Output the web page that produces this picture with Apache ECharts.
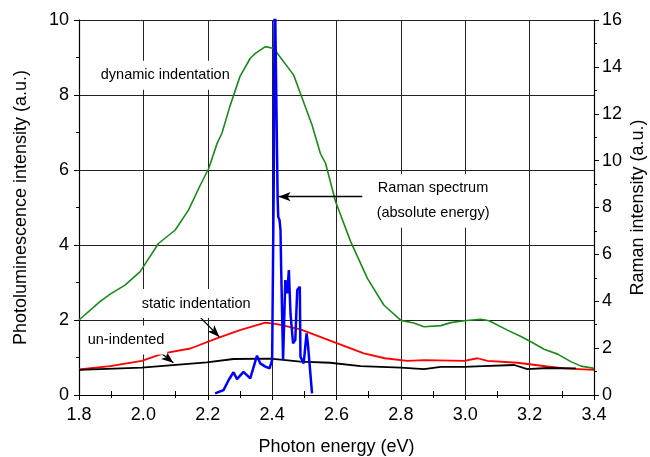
<!DOCTYPE html>
<html>
<head>
<meta charset="utf-8">
<script src="https://cdn.jsdelivr.net/npm/echarts@6/dist/echarts.min.js"></script>
<style>
  html, body { margin: 0; padding: 0; background: #fff; }
  #chart { width: 650px; height: 457px; }
</style>
</head>
<body>
<div id="chart"></div>
<script>
// photon energy (eV) vs intensity
const dynamicPL = [
  [1.80, 2.00], [1.865, 2.49], [1.897, 2.69], [1.943, 2.93], [1.99, 3.29], [2.047, 4.04],
  [2.099, 4.40], [2.14, 4.93], [2.177, 5.60], [2.203, 6.04], [2.229, 6.71], [2.244, 6.98],
  [2.27, 7.73], [2.30, 8.49], [2.332, 8.98], [2.348, 9.11], [2.379, 9.29], [2.405, 9.24],
  [2.467, 8.53], [2.488, 8.04], [2.524, 7.20], [2.55, 6.44], [2.566, 6.18], [2.597, 5.16],
  [2.644, 4.09], [2.696, 3.11], [2.747, 2.40], [2.80, 1.99], [2.84, 1.92], [2.872, 1.82],
  [2.924, 1.85], [2.955, 1.93], [2.997, 1.98], [3.048, 2.02], [3.074, 1.98], [3.131, 1.73],
  [3.173, 1.56], [3.204, 1.42], [3.245, 1.22], [3.287, 1.09], [3.328, 0.89], [3.36, 0.77],
  [3.40, 0.71]
]
const staticPL = [
  [1.80, 0.68], [1.897, 0.77], [1.995, 0.91], [2.062, 1.11], [2.146, 1.24], [2.228, 1.51],
  [2.30, 1.73], [2.379, 1.93], [2.415, 1.89], [2.488, 1.75], [2.58, 1.45], [2.685, 1.11],
  [2.75, 0.98], [2.82, 0.91], [2.872, 0.93], [2.997, 0.91], [3.038, 0.98], [3.069, 0.91],
  [3.162, 0.86], [3.256, 0.76], [3.308, 0.71], [3.40, 0.67]
]
const unindentedPL = [
  [1.80, 0.67], [1.995, 0.73], [2.197, 0.87], [2.28, 0.96], [2.395, 0.97], [2.488, 0.89],
  [2.58, 0.86], [2.675, 0.77], [2.80, 0.73], [2.872, 0.69], [2.924, 0.75], [2.997, 0.75],
  [3.055, 0.77], [3.152, 0.80], [3.193, 0.69], [3.256, 0.72], [3.344, 0.71]
]
// right axis; the main peak runs off the top of the frame
const raman = [
  [2.223, 0.07], [2.249, 0.21], [2.265, 0.64], [2.28, 0.97], [2.291, 0.68], [2.311, 0.99],
  [2.332, 0.71], [2.353, 1.68], [2.363, 1.35], [2.379, 1.21], [2.392, 1.14], [2.40, 1.49],
  [2.405, 9.0], [2.408, 18.0], [2.413, 18.0], [2.417, 8.46], [2.419, 7.6], [2.423, 7.47],
  [2.426, 7.04], [2.428, 5.47], [2.434, 1.49], [2.441, 4.9], [2.447, 4.34], [2.452, 5.33],
  [2.457, 3.49], [2.465, 2.2], [2.472, 2.35], [2.478, 4.48], [2.486, 4.62], [2.488, 1.63],
  [2.498, 1.35], [2.507, 2.63], [2.511, 2.2], [2.524, 0.07]
]

// annotations in data coordinates (left axis)
const notes = [
  { text: 'dynamic indentation', at: [2.068, 8.53] },
  { text: 'Raman spectrum\n(absolute energy)', at: [2.90, 5.18] },
  { text: 'static indentation', at: [2.164, 2.44] },
  { text: 'un-indented', at: [1.946, 1.47] }
]
const arrows = [
  [[2.68, 5.29], [2.42, 5.29]],
  [[2.161, 2.21], [2.236, 1.55]],
  [[2.03, 1.29], [2.093, 0.86]]
]

const FONT = 'Liberation Sans, Arial, sans-serif'
const chart = echarts.init(document.getElementById('chart'))

const axisText = { color: '#000', fontSize: 18, fontFamily: FONT }
const frame = { show: true, lineStyle: { color: '#000', width: 1.2 } }

chart.setOption({
  animation: false,
  grid: { left: 79, right: 56, top: 20, bottom: 62, outerBoundsMode: 'none', containLabel: false },
  xAxis: [
    {
      type: 'value', min: 1.8, max: 3.4, interval: 0.2,
      name: 'Photon energy (eV)', nameLocation: 'middle', nameGap: 43, nameMoveOverlap: false,
      nameTextStyle: axisText,
      axisLine: frame,
      axisTick: { show: true, length: 5, lineStyle: { color: '#000' } },
      minorTick: { show: true, splitNumber: 2, length: 3, lineStyle: { color: '#000' } },
      axisLabel: Object.assign({ margin: 11, formatter: v => v.toFixed(1) }, axisText),
      splitLine: { show: true, lineStyle: { color: '#222', width: 1 } }
    },
    {
      type: 'value', position: 'top', min: 1.8, max: 3.4, interval: 0.2,
      axisLine: frame,
      axisTick: { show: false },
      minorTick: { show: true, splitNumber: 2, length: 4, inside: true, lineStyle: { color: '#000' } },
      axisLabel: { show: false },
      splitLine: { show: false }
    }
  ],
  yAxis: [
    {
      type: 'value', min: 0, max: 10, interval: 2,
      name: 'Photoluminescence intensity (a.u.)', nameLocation: 'middle', nameGap: 49, nameRotate: 90,
      nameMoveOverlap: false,
      nameTextStyle: axisText,
      axisLine: frame,
      axisTick: { show: true, length: 5, lineStyle: { color: '#000' } },
      minorTick: { show: true, splitNumber: 2, length: 3, lineStyle: { color: '#000' } },
      axisLabel: Object.assign({ margin: 10 }, axisText),
      splitLine: { show: true, lineStyle: { color: '#222', width: 1 } }
    },
    {
      type: 'value', min: 0, max: 16, interval: 2, position: 'right',
      name: 'Raman intensity (a.u.)', nameLocation: 'middle', nameGap: 35, nameRotate: 90,
      nameMoveOverlap: false,
      nameTextStyle: axisText,
      axisLine: frame,
      axisTick: { show: true, length: 5, lineStyle: { color: '#000' } },
      minorTick: { show: true, splitNumber: 2, length: 3, lineStyle: { color: '#000' } },
      axisLabel: Object.assign({ margin: 8 }, axisText),
      splitLine: { show: false }
    }
  ],
  series: [
    {
      name: 'dynamic', type: 'line', data: dynamicPL, showSymbol: false,
      lineStyle: { color: '#1a8a1a', width: 1.6 }
    },
    {
      name: 'static', type: 'line', data: staticPL, showSymbol: false,
      lineStyle: { color: '#ff0000', width: 1.8 }
    },
    {
      name: 'un-indented', type: 'line', data: unindentedPL, showSymbol: false,
      lineStyle: { color: '#000', width: 1.8 },
      markLine: {
        silent: true, animation: false,
        symbol: ['none', 'arrow'], symbolSize: [7, 12],
        label: { show: false },
        lineStyle: { color: '#000', width: 1.3, type: 'solid' },
        data: arrows.map(a => [{ coord: a[0] }, { coord: a[1] }])
      },
      markPoint: {
        silent: true, animation: false,
        symbol: 'rect', symbolSize: 1, itemStyle: { color: 'rgba(0,0,0,0)' },
        label: {
          show: true, position: 'inside', color: '#000', fontSize: 14.5, fontFamily: FONT,
          lineHeight: 25, backgroundColor: '#fff', padding: [2, 3],
          formatter: p => p.name
        },
        data: notes.map(n => ({ name: n.text, coord: n.at }))
      }
    },
    {
      name: 'Raman', type: 'line', yAxisIndex: 1, data: raman, showSymbol: false,
      clip: true, lineStyle: { color: '#0000ff', width: 2.5 }
    }
  ]
})
</script>
</body>
</html>
